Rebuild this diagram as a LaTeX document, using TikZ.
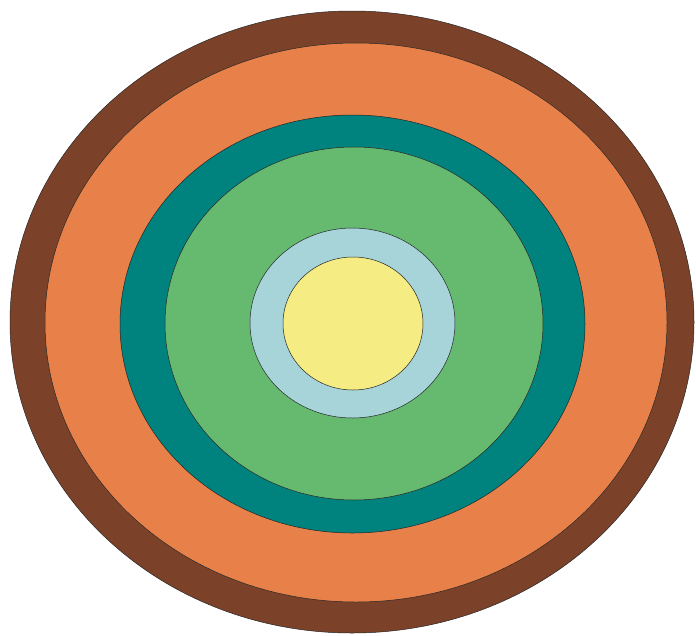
\documentclass[tikz,border=0pt]{standalone}
\definecolor{cbrown}{HTML}{7B4229}
\definecolor{corange}{HTML}{E8804A}
\definecolor{cteal}{HTML}{00827E}
\definecolor{cgreen}{HTML}{66BA70}
\definecolor{cblue}{HTML}{A6D4D8}
\definecolor{cyellow}{HTML}{F5EC84}
\tikzset{ring/.style={draw=black!85, line width=0.5pt}}
\begin{document}
\begin{tikzpicture}[x=1pt,y=-1pt]
\useasboundingbox (0,0) rectangle (696,635);
\fill[white] (0,0) rectangle (696,635);
\path[ring, fill=cbrown] (352,322) ellipse [x radius=342, y radius=311];
\path[ring, fill=corange] (356,322.5) ellipse [x radius=311, y radius=279.5];
\path[ring, fill=cteal] (352.5,324) ellipse [x radius=232.5, y radius=209];
\path[ring, fill=cgreen] (354,323.5) ellipse [x radius=189, y radius=176.5];
\path[ring, fill=cblue] (352.5,323) ellipse [x radius=102.5, y radius=95];
\path[ring, fill=cyellow] (353,323.5) ellipse [x radius=70, y radius=66.5];
\end{tikzpicture}
\end{document}
